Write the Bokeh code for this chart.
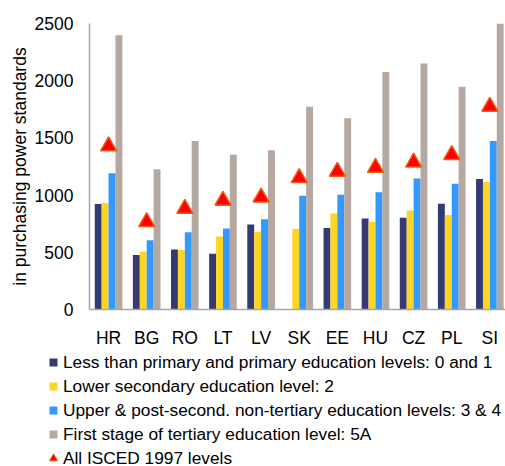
from bokeh.plotting import figure
from bokeh.models import Range1d, FixedTicker, Legend, LegendItem, ColumnDataSource
from bokeh.transform import dodge
from bokeh.embed import file_html
from bokeh.resources import INLINE

countries = ["HR", "BG", "RO", "LT", "LV", "SK", "EE", "HU", "CZ", "PL", "SI"]
primary = [923, 476, 524, 487, 742, float("nan"), 713, 796, 802, 925, 1140]
lower_secondary = [931, 507, 521, 639, 679, 704, 839, 768, 865, 825, 1114]
upper_secondary = [1191, 605, 676, 708, 788, 994, 1002, 1025, 1146, 1100, 1472]
tertiary = [2397, 1226, 1472, 1352, 1392, 1773, 1672, 2076, 2151, 1947, 2510]
all_levels = [1428, 765, 881, 952, 981, 1150, 1206, 1240, 1286, 1352, 1774]
y_ticks = [0, 500, 1000, 1500, 2000, 2500]

labels = [
    "Less than primary and primary education levels: 0 and 1",
    "Lower secondary education level: 2",
    "Upper & post-second. non-tertiary education levels: 3 & 4",
    "First stage of tertiary education level: 5A",
    "All ISCED 1997 levels",
]
colors = ["#343A72", "#FFD524", "#3399FF", "#B5A8A0"]
tri_fill = "#FF0000"
tri_line = "#F05A14"

FONT = "Liberation Sans"
FS = "17.5px"
LFS = "17.3px"

xs = list(range(len(countries)))
src = ColumnDataSource(dict(x=xs, primary=primary, lower=lower_secondary,
                            upper=upper_secondary, tertiary=tertiary, all=all_levels))

# ---- main chart ----
p = figure(width=505, height=350, x_range=Range1d(-0.5, 10.41), y_range=Range1d(0, 2500),
           output_backend="svg", toolbar_location=None,
           min_border_left=89, min_border_right=0, min_border_top=23, min_border_bottom=36)

w = 0.181
cols = ["primary", "lower", "upper", "tertiary"]
for i, (c, col) in enumerate(zip(cols, colors)):
    p.vbar(x=dodge("x", (i - 1.5) * w), top=c, width=w, source=src,
           fill_color=col, line_color=None)

p.scatter(x="x", y="all", marker="triangle", size=16, source=src,
          fill_color=tri_fill, line_color=tri_line, line_width=1.5)

p.xaxis.ticker = FixedTicker(ticks=xs)
p.xaxis.major_label_overrides = {i: c for i, c in enumerate(countries)}
p.yaxis.ticker = FixedTicker(ticks=y_ticks)
for ax in (p.xaxis, p.yaxis):
    ax.major_tick_line_color = None
    ax.minor_tick_line_color = None
    ax.axis_line_color = "#A6A6A6"
    ax.axis_line_width = 1.5
    ax.major_label_text_font = FONT
    ax.major_label_text_font_size = FS
    ax.major_label_text_color = "#000000"
p.xaxis.major_label_standoff = 12
p.yaxis.major_label_standoff = 10
p.yaxis.axis_label = "in purchasing power standards"
p.yaxis.axis_label_text_font = FONT
p.yaxis.axis_label_text_font_size = FS
p.yaxis.axis_label_text_font_style = "normal"
p.yaxis.axis_label_text_color = "#000000"
p.yaxis.axis_label_standoff = 2
p.xgrid.visible = False
p.ygrid.visible = False
p.outline_line_color = None

# ---- legend panel (separate root, so its frame is not aligned with the chart) ----
q = figure(width=505, height=116, x_range=Range1d(0, 1), y_range=Range1d(0, 1),
           output_backend="svg", toolbar_location=None,
           x_axis_location=None, y_axis_location=None,
           min_border_left=0, min_border_right=0, min_border_top=0, min_border_bottom=0)
q.xgrid.visible = False
q.ygrid.visible = False
q.outline_line_color = None

nan = [float("nan")]
proxies = []
for col in colors:
    proxies.append(q.scatter(x=nan, y=nan, marker="square", size=8,
                             fill_color=col, line_color=None))
proxies.append(q.scatter(x=nan, y=nan, marker="triangle", size=16,
                         fill_color=tri_fill, line_color=tri_line, line_width=1))

items = [LegendItem(label=labels[i], renderers=[proxies[i]]) for i in range(5)]
legend = Legend(items=items, location=(43, -2.5), orientation="vertical",
                glyph_width=20, glyph_height=20, label_height=20, label_standoff=-3,
                spacing=3, padding=0, margin=0, border_line_color=None,
                background_fill_alpha=0, label_text_font=FONT,
                label_text_font_size=LFS, label_text_color="#000000")
q.add_layout(legend)

open("out.html", "w").write(file_html([p, q], INLINE))
